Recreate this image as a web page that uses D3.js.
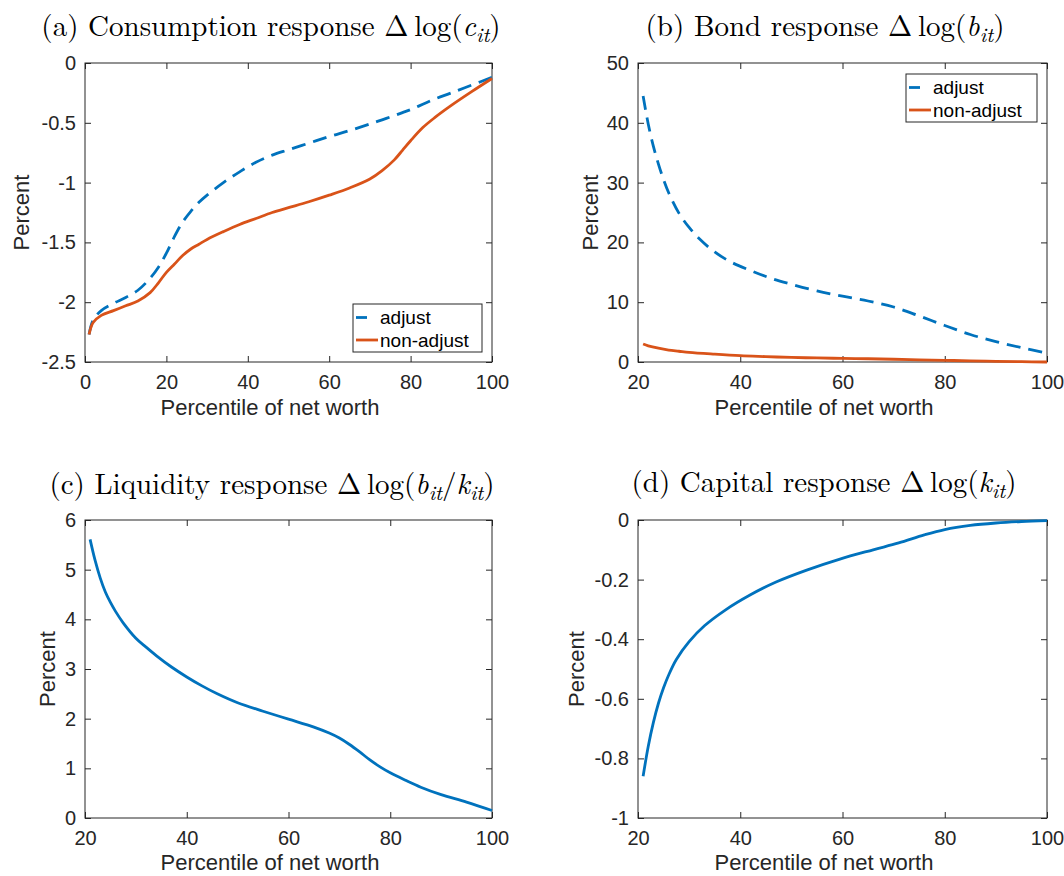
<!DOCTYPE html>
<html>
<head>
<meta charset="utf-8">
<script src="https://cdn.jsdelivr.net/npm/d3@7"></script>
<style>
  body { margin: 0; background: #fff; }
  svg { display: block; }
</style>
</head>
<body>
<script>
const WIDTH = 1064;
const HEIGHT = 876;
const BLUE = "#0072BD";
const ORANGE = "#D95319";
const INK = "#262626";
const SANS = "'Liberation Sans', Arial, Helvetica, sans-serif";
const SERIF = "'Latin Modern Roman', 'CMU Serif', 'Liberation Serif', serif";

// (a) consumption response
const consX = [1, 2, 4, 7, 10, 13, 16, 18, 20, 22, 24, 26, 28, 30, 34, 38, 42, 46, 50, 55, 60, 65, 70, 73, 76, 78, 80, 83, 86, 90, 95, 100];
const consAdjust = [-2.27, -2.15, -2.07, -2.01, -1.96, -1.90, -1.80, -1.71, -1.59, -1.45, -1.33, -1.24, -1.165, -1.105, -1.00, -0.91, -0.83, -0.77, -0.725, -0.67, -0.615, -0.565, -0.51, -0.475, -0.44, -0.415, -0.39, -0.345, -0.30, -0.25, -0.185, -0.12];
const consNonAdjust = [-2.27, -2.17, -2.11, -2.07, -2.03, -1.99, -1.92, -1.84, -1.75, -1.68, -1.61, -1.555, -1.515, -1.475, -1.41, -1.35, -1.30, -1.25, -1.21, -1.16, -1.105, -1.045, -0.97, -0.90, -0.81, -0.73, -0.65, -0.54, -0.455, -0.355, -0.24, -0.13];

// (b) bond response
const bondAdjustX = [21, 22, 23, 24, 25, 26, 28, 30, 32, 35, 38, 42, 46, 50, 55, 60, 65, 70, 75, 80, 85, 90, 95, 100];
const bondAdjust = [44.5, 39.8, 36.1, 33.1, 30.5, 28.3, 24.9, 22.5, 20.6, 18.4, 16.8, 15.3, 14.0, 13.0, 11.9, 11.0, 10.2, 9.2, 7.7, 6.1, 4.6, 3.4, 2.4, 1.5];
const bondNonAdjustX = [21, 22, 24, 26, 28, 30, 35, 40, 45, 50, 55, 60, 65, 70, 75, 80, 85, 90, 95, 100];
const bondNonAdjust = [3.0, 2.7, 2.3, 2.0, 1.8, 1.6, 1.3, 1.05, 0.9, 0.76, 0.68, 0.6, 0.54, 0.46, 0.37, 0.28, 0.19, 0.11, 0.05, 0.0];

// (c) liquidity response
const liqX = [21, 22, 23, 24, 25, 26, 27.5, 30, 32, 34, 37, 40, 43, 46, 50, 55, 60, 65, 68, 70, 72, 74, 76, 78, 80, 83, 86, 90, 95, 100];
const liq = [5.61, 5.18, 4.83, 4.55, 4.34, 4.16, 3.93, 3.62, 3.44, 3.27, 3.04, 2.84, 2.66, 2.50, 2.32, 2.15, 1.99, 1.83, 1.71, 1.61, 1.48, 1.33, 1.17, 1.03, 0.91, 0.76, 0.62, 0.47, 0.32, 0.15];

// (d) capital response
const capX = [21, 22, 23, 24, 25, 26, 27.5, 30, 33, 37, 42, 47, 53, 59.5, 66, 71, 76, 80, 85, 90, 95, 100];
const cap = [-0.86, -0.76, -0.68, -0.615, -0.563, -0.52, -0.468, -0.408, -0.355, -0.303, -0.251, -0.208, -0.168, -0.131, -0.10, -0.077, -0.050, -0.032, -0.018, -0.010, -0.005, -0.002];

// tick labels
const xTicksA = [0, 20, 40, 60, 80, 100];
const xTicksB = [20, 40, 60, 80, 100];
const yTicksA = [-2.5, -2, -1.5, -1, -0.5, 0];
const yTicksB = [0, 10, 20, 30, 40, 50];
const yTicksC = [0, 1, 2, 3, 4, 5, 6];
const yTicksD = [-1, -0.8, -0.6, -0.4, -0.2, 0];

const legendNames = ["adjust", "non-adjust"];

const svg = d3.select("body")
  .append("svg")
  .attr("width", WIDTH)
  .attr("height", HEIGHT);

svg.append("rect").attr("width", WIDTH).attr("height", HEIGHT).attr("fill", "#fff");

function fmt(d) {
  return String(+d.toFixed(2));
}

function addTitle(g, cx, cy, label, vars) {
  const t = g.append("text")
    .attr("x", cx)
    .attr("y", cy)
    .attr("text-anchor", "middle")
    .style("font-family", SERIF)
    .style("font-size", "29px")
    .attr("fill", "#000");
  t.append("tspan").text(label + " \u0394\u2009log(");
  let shift = 0;
  vars.forEach((v, i) => {
    if (i > 0) t.append("tspan").attr("dy", -shift).text("/"), shift = 0;
    t.append("tspan").attr("dy", -shift).style("font-style", "italic").text(v);
    t.append("tspan").attr("dy", 6).style("font-style", "italic").style("font-size", "21px").text("it");
    shift = 6;
  });
  t.append("tspan").attr("dy", -shift).text(")");
}

function drawPanel(p) {
  const g = svg.append("g");
  const x = d3.scaleLinear().domain(p.xDomain).range([p.left, p.right]);
  const y = d3.scaleLinear().domain(p.yDomain).range([p.bottom, p.top]);

  const styleAxis = (a) => {
    a.select(".domain").remove();
    a.selectAll("line").attr("stroke", INK);
    a.selectAll("text")
      .attr("fill", INK)
      .style("font-family", SANS)
      .style("font-size", "20px");
  };

  g.append("g")
    .attr("transform", `translate(0,${p.bottom})`)
    .call(d3.axisBottom(x).tickValues(p.xTicks).tickSizeInner(-6).tickSizeOuter(0).tickPadding(13).tickFormat(fmt))
    .call(styleAxis);
  g.append("g")
    .attr("transform", `translate(0,${p.top})`)
    .call(d3.axisTop(x).tickValues(p.xTicks).tickSizeInner(-6).tickSizeOuter(0).tickFormat(""))
    .call(styleAxis);
  g.append("g")
    .attr("transform", `translate(${p.left},0)`)
    .call(d3.axisLeft(y).tickValues(p.yTicks).tickSizeInner(-6).tickSizeOuter(0).tickPadding(9).tickFormat(fmt))
    .call(styleAxis);
  g.append("g")
    .attr("transform", `translate(${p.right},0)`)
    .call(d3.axisRight(y).tickValues(p.yTicks).tickSizeInner(-6).tickSizeOuter(0).tickFormat(""))
    .call(styleAxis);

  g.append("rect")
    .attr("x", p.left)
    .attr("y", p.top)
    .attr("width", p.right - p.left)
    .attr("height", p.bottom - p.top)
    .attr("fill", "none")
    .attr("stroke", INK)
    .attr("stroke-width", 1);

  const line = d3.line()
    .x((d) => x(d[0]))
    .y((d) => y(d[1]))
    .curve(d3.curveCatmullRom.alpha(0.5));

  p.series.forEach((s) => {
    g.append("path")
      .datum(d3.zip(s.xs, s.ys))
      .attr("d", line)
      .attr("fill", "none")
      .attr("stroke", s.color)
      .attr("stroke-width", 2.8)
      .attr("stroke-dasharray", s.dashed ? "14,8" : null)
      .attr("stroke-linejoin", "round");
  });

  addTitle(g, p.titleX, p.titleY, p.label, p.vars);

  g.append("text")
    .attr("x", p.xlabelX)
    .attr("y", p.xlabelY)
    .attr("text-anchor", "middle")
    .attr("fill", INK)
    .style("font-family", SANS)
    .style("font-size", "22px")
    .text("Percentile of net worth");

  g.append("text")
    .attr("transform", `translate(${p.ylabelX},${(p.top + p.bottom) / 2}) rotate(-90)`)
    .attr("text-anchor", "middle")
    .attr("fill", INK)
    .style("font-family", SANS)
    .style("font-size", "22px")
    .text("Percent");

  if (p.legend) {
    const L = p.legend;
    const lg = g.append("g").attr("transform", `translate(${L.x},${L.y})`);
    lg.append("rect")
      .attr("width", L.w)
      .attr("height", L.h)
      .attr("fill", "#fff")
      .attr("stroke", INK)
      .attr("stroke-width", 1);
    p.series.forEach((s, i) => {
      const ry = 13.5 + i * 22.5;
      lg.append("line")
        .attr("x1", 3).attr("x2", 25)
        .attr("y1", ry).attr("y2", ry)
        .attr("stroke", s.color)
        .attr("stroke-width", 2.8)
        .attr("stroke-dasharray", s.dashed ? "11,12" : null);
      lg.append("text")
        .attr("x", 27)
        .attr("y", ry)
        .attr("dy", "0.35em")
        .attr("fill", "#000")
        .style("font-family", SANS)
        .style("font-size", "19px")
        .text(legendNames[i]);
    });
  }
}

drawPanel({
  left: 85, right: 492, top: 63, bottom: 362,
  xDomain: [0, 100], yDomain: [-2.5, 0], xTicks: xTicksA, yTicks: yTicksA,
  label: "(a) Consumption response", vars: ["c"],
  titleX: 271, titleY: 36, xlabelX: 270, xlabelY: 415, ylabelX: 29,
  series: [
    { xs: consX, ys: consAdjust, color: BLUE, dashed: true },
    { xs: consX, ys: consNonAdjust, color: ORANGE, dashed: false },
  ],
  legend: { x: 353, y: 304, w: 129, h: 48 },
});

drawPanel({
  left: 638, right: 1047, top: 63, bottom: 362,
  xDomain: [20, 100], yDomain: [0, 50], xTicks: xTicksB, yTicks: yTicksB,
  label: "(b) Bond response", vars: ["b"],
  titleX: 825, titleY: 36, xlabelX: 824, xlabelY: 415, ylabelX: 598,
  series: [
    { xs: bondAdjustX, ys: bondAdjust, color: BLUE, dashed: true },
    { xs: bondNonAdjustX, ys: bondNonAdjust, color: ORANGE, dashed: false },
  ],
  legend: { x: 906, y: 74, w: 131, h: 48 },
});

drawPanel({
  left: 85, right: 492, top: 520, bottom: 818,
  xDomain: [20, 100], yDomain: [0, 6], xTicks: xTicksB, yTicks: yTicksC,
  label: "(c) Liquidity response", vars: ["b", "k"],
  titleX: 272, titleY: 494, xlabelX: 270, xlabelY: 870, ylabelX: 55,
  series: [{ xs: liqX, ys: liq, color: BLUE, dashed: false }],
});

drawPanel({
  left: 638, right: 1047, top: 520, bottom: 818,
  xDomain: [20, 100], yDomain: [-1, 0], xTicks: xTicksB, yTicks: yTicksD,
  label: "(d) Capital response", vars: ["k"],
  titleX: 824, titleY: 492, xlabelX: 824, xlabelY: 870, ylabelX: 584,
  series: [{ xs: capX, ys: cap, color: BLUE, dashed: false }],
});
</script>
</body>
</html>
